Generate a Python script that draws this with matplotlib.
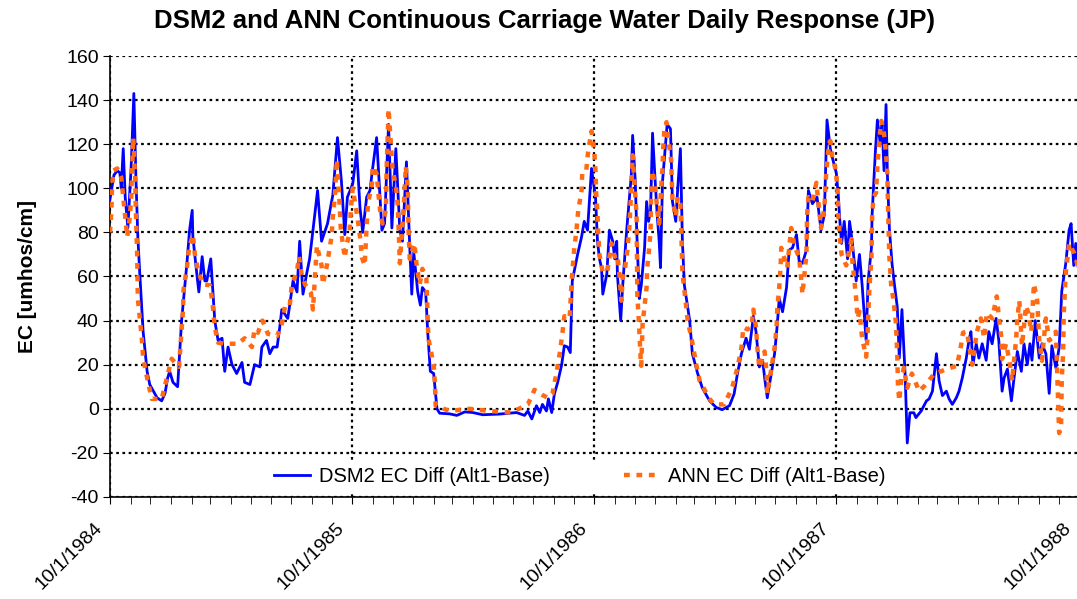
import matplotlib
matplotlib.use("Agg")
import matplotlib.pyplot as plt
import matplotlib.dates as mdates
import matplotlib.ticker as mticker
import matplotlib.transforms as mtransforms
import pandas as pd

plt.rcParams['font.family'] = ['Liberation Sans', 'DejaVu Sans']
plt.rcParams['axes.unicode_minus'] = False

# days after 10/1/1984 and EC difference (umhos/cm)
dsm2_day = [0, 6, 11, 15, 17, 20, 23, 27, 32, 36, 39, 42, 45, 50, 56, 60, 71, 78, 83, 87,
            90, 95, 102, 108, 116, 120, 124, 125, 131, 134, 139, 143, 146, 152, 158, 163, 169, 173, 178, 184,
            191, 199, 203, 211, 218, 226, 229, 236, 241, 246, 252, 256, 259, 268, 271, 276, 282, 286, 291, 297,
            301, 306, 313, 319, 328, 336, 343, 349, 354, 358, 366, 372, 377, 381, 387, 392, 396, 402, 410, 414,
            420, 425, 431, 437, 441, 447, 452, 455, 458, 464, 468, 471, 476, 479, 483, 488, 493, 497, 512, 523,
            535, 547, 562, 587, 613, 625, 630, 636, 643, 648, 652, 658, 661, 666, 670, 675, 681, 685, 690, 694,
            697, 705, 711, 715, 720, 726, 732, 735, 738, 741, 743, 749, 753, 758, 761, 764, 765, 770, 773, 779,
            786, 788, 792, 794, 798, 801, 806, 809, 812, 815, 818, 822, 825, 828, 830, 833, 837, 840, 845, 848,
            853, 856, 860, 863, 866, 869, 874, 878, 886, 893, 904, 914, 923, 934, 941, 946, 952, 959, 964, 970,
            974, 979, 984, 987, 991, 997, 1002, 1006, 1009, 1014, 1020, 1024, 1029, 1035, 1039, 1044, 1050, 1053, 1059, 1066,
            1072, 1077, 1081, 1086, 1089, 1095, 1098, 1100, 1103, 1107, 1112, 1115, 1119, 1125, 1130, 1134, 1140, 1143, 1148, 1149,
            1154, 1157, 1161, 1164, 1167, 1170, 1172, 1175, 1179, 1182, 1187, 1190, 1194, 1199, 1202, 1206, 1212, 1215, 1223, 1231,
            1235, 1240, 1246, 1250, 1255, 1261, 1265, 1270, 1276, 1280, 1285, 1291, 1295, 1298, 1301, 1306, 1310, 1315, 1321, 1325,
            1330, 1336, 1340, 1345, 1348, 1353, 1359, 1363, 1368, 1374, 1378, 1383, 1387, 1390, 1395, 1401, 1405, 1411, 1416, 1420,
            1426, 1431, 1435, 1441, 1446, 1449, 1453, 1456, 1461]
dsm2_ec = [95, 106, 108, 107, 100, 118, 96, 82, 110, 143, 106, 78, 61, 35, 17, 11, 5, 3.6, 7, 14,
           17, 12, 10, 40, 66, 81, 90, 78, 61, 53, 69, 58, 58, 68, 40, 31, 32, 17, 28, 20,
           16, 21, 12, 11, 20, 19, 28, 31, 25, 28, 28, 37, 45, 41, 47, 58, 53, 76, 52, 62,
           68, 81, 99, 76, 84, 97, 123, 103, 79, 96, 102, 117, 91, 80, 96, 99, 109, 123, 81, 84,
           129, 82, 118, 81, 76, 112, 73, 52, 71, 53, 47, 55, 53, 35, 17, 16, 0, -2, -2.3, -3,
           -1.4, -1.7, -2.7, -2.4, -1.7, -3, -1, -4.6, 1.4, -1.7, 2, -1, 4.5, -1.7, 6.7, 12, 20, 28.6, 28, 25.5,
           58, 70, 78, 85, 81, 109, 96, 76, 68, 64, 52, 61, 81, 76, 68, 76, 61, 40, 56, 81,
           106, 124, 103, 82, 50, 56, 73, 94, 85, 90, 125, 103, 88, 76, 64, 103, 118, 129, 127, 94,
           85, 100, 118, 76, 56, 50, 40, 25, 16, 9.5, 3.6, 0.6, -0.4, 1.4, 6.8, 16, 25, 32, 27, 42,
           35, 19, 22, 14, 5, 16, 25, 38, 50, 44, 55, 72, 73, 79, 67, 66, 72, 99, 93, 96,
           81, 88, 131, 118, 114, 107, 97, 87, 75, 85, 68, 85, 76, 58, 70, 56, 31, 58, 73, 88,
           117, 131, 121, 129, 108, 138, 107, 82, 66, 58, 46, 23, 45, 14, -15.5, -1.8, -1.8, -4, -1, 3.6,
           4.5, 8, 25, 12.7, 6, 8, 4.5, 2, 5, 8, 14, 23, 31, 35, 20, 29.5, 23, 29.5, 22, 35,
           29.5, 41, 31, 8, 14, 18, 3.6, 14, 26, 17, 29.5, 20, 29.5, 22, 40, 23, 29.5, 25, 7, 28.6,
           18.6, 27.7, 53.5, 66, 81, 84, 65, 75, 60]

ann_day = [0, 2, 3, 5, 11, 17, 20, 23, 26, 30, 32, 33, 35, 38, 39, 41, 42, 45, 48, 50,
           56, 63, 78, 93, 104, 108, 110, 111, 116, 119, 125, 128, 133, 140, 151, 155, 158, 163, 173, 181,
           193, 203, 214, 218, 223, 230, 238, 252, 259, 264, 271, 274, 282, 285, 289, 294, 303, 306, 312, 319,
           321, 327, 334, 336, 339, 342, 345, 348, 354, 357, 361, 364, 366, 373, 377, 380, 384, 387, 389, 395,
           396, 402, 405, 408, 411, 416, 417, 420, 426, 431, 434, 437, 443, 446, 449, 450, 452, 459, 462, 467,
           471, 477, 479, 480, 488, 490, 491, 512, 542, 572, 605, 630, 640, 651, 660, 667, 673, 678, 682, 685,
           693, 696, 700, 703, 706, 711, 712, 718, 721, 726, 730, 732, 733, 735, 736, 738, 743, 750, 756, 761,
           765, 768, 771, 773, 776, 780, 783, 786, 788, 792, 794, 795, 798, 800, 801, 803, 806, 809, 810, 813,
           815, 816, 818, 822, 825, 828, 831, 833, 834, 836, 839, 842, 846, 848, 853, 856, 860, 861, 863, 868,
           871, 878, 884, 889, 904, 911, 926, 938, 946, 952, 955, 961, 967, 970, 974, 976, 979, 987, 990, 991,
           997, 1002, 1005, 1006, 1009, 1011, 1012, 1021, 1024, 1027, 1032, 1039, 1042, 1044, 1047, 1050, 1051, 1053, 1059, 1065,
           1072, 1077, 1080, 1083, 1086, 1089, 1092, 1095, 1097, 1098, 1100, 1103, 1110, 1118, 1119, 1122, 1125, 1127, 1130, 1134,
           1140, 1142, 1143, 1145, 1148, 1149, 1151, 1155, 1157, 1160, 1163, 1167, 1170, 1172, 1173, 1175, 1178, 1181, 1185, 1187,
           1188, 1190, 1193, 1197, 1202, 1209, 1220, 1228, 1243, 1253, 1261, 1277, 1283, 1286, 1292, 1300, 1307, 1313, 1318, 1322,
           1330, 1337, 1340, 1344, 1345, 1351, 1356, 1360, 1366, 1368, 1371, 1375, 1381, 1384, 1389, 1393, 1398, 1401, 1405, 1408,
           1411, 1416, 1420, 1426, 1428, 1429, 1431, 1434, 1435, 1437, 1438, 1441, 1446, 1453, 1461]
ann_ec = [80, 89, 99, 108, 109, 105, 96, 87, 78, 87, 96, 105, 123, 105, 90, 70, 50, 41, 32, 23,
          14, 4.5, 4.5, 22.7, 19, 36, 44, 54, 64, 72.5, 79, 70, 62.6, 56.5, 56, 46.7, 37, 30, 29.5, 29.5,
          29.5, 32, 28, 36, 34.5, 40, 34, 33, 38.5, 46.7, 46.7, 56, 62.6, 69, 61, 56.5, 52.6, 45, 74, 65,
          56.5, 65, 78, 87, 96, 113, 100, 81.6, 68.5, 75, 79, 94, 100, 87, 78, 68.5, 65, 83, 93, 102,
          110, 106.6, 96.6, 88, 84, 90, 108, 136, 109, 101, 92, 66, 92, 110, 100, 82, 68, 75, 66, 56.5,
          63.5, 59.5, 41, 32, 20, 11, 1.4, -1, 0, -1, -1.7, 2, 8.6, 6.4, 5, 6.8, 16, 25, 34, 42,
          41, 58, 73, 80, 90, 99, 107, 108, 117, 126, 117, 108, 98, 89, 80, 70, 61.7, 62.6, 75, 69,
          70, 61, 49, 59.5, 62.6, 71.7, 82, 100, 115, 96.6, 87.5, 52, 36, 23, 19.5, 38.5, 46.7, 55, 64, 73,
          81, 99, 108, 100, 91, 84, 100, 109, 118, 127, 130, 121.5, 113, 95, 87, 96, 93, 84, 62, 48,
          40, 30, 20, 12.7, 4.5, 2, 2, 9.5, 18.6, 27.7, 37, 36, 37, 45, 37, 27.7, 18.6, 26, 16, 6.8,
          18, 27.7, 37, 45, 55, 64, 73, 64, 73, 82, 74, 68.5, 59.5, 52, 61, 70, 88, 96, 94, 102.5,
          82, 91, 108, 117, 121.5, 114, 111, 106.6, 97.5, 88, 79, 70, 65, 77, 68, 59, 50, 41, 44, 32,
          23.6, 31.7, 41, 55, 68.5, 87, 96, 98, 110, 122.5, 130.6, 124.7, 115.6, 106.6, 92, 69, 55, 50, 38.5, 24,
          10.4, 3.6, 13.6, 18.6, 9.5, 16, 8, 10.4, 16, 17, 18, 19.5, 28.6, 34.5, 35, 20, 35, 41, 32, 43.5,
          41, 51, 42, 32, 22.6, 29.5, 21.8, 12.7, 31, 41, 49, 28.6, 46.7, 44, 35, 56.7, 49, 31, 21.8, 31.7,
          41, 31, 32, 35, 16, 6.8, -11, -7, 13.6, 25.4, 43.5, 61.7, 75, 71, 63]

start = pd.Timestamp('1984-10-01')
year_ticks = ['1984-10-01', '1985-10-01', '1986-10-01', '1987-10-01', '1988-10-01']

dsm2_dates = start + pd.to_timedelta(dsm2_day, unit='D')
ann_dates = start + pd.to_timedelta(ann_day, unit='D')

fig = plt.figure(figsize=(10.77, 5.99), dpi=100)
ax = fig.add_axes([0.1021, 0.1703, 0.8998, 0.7362])

ax.plot(dsm2_dates, dsm2_ec, color='#0000FF', lw=2.0, label='DSM2 EC Diff (Alt1-Base)', zorder=3)
ax.plot(ann_dates, ann_ec, color='#FF6A13', lw=3.2, linestyle=(0, (1.3, 1.5)),
        label='ANN EC Diff (Alt1-Base)', zorder=4)

ax.set_ylim(-40, 160)
ax.set_yticks(range(-40, 161, 20))
ax.set_xlim(pd.Timestamp(year_ticks[0]), pd.Timestamp(year_ticks[-1]))
ax.set_xticks([pd.Timestamp(t) for t in year_ticks])
ax.xaxis.set_minor_locator(mdates.MonthLocator())
ax.xaxis.set_major_formatter(mticker.FuncFormatter(
    lambda v, p: "{0.month}/{0.day}/{0.year}".format(mdates.num2date(v))))

ax.grid(True, which='major', color='black', linestyle=(0, (1.2, 1.6)), lw=1.6, zorder=1)
for s in ['top', 'right']:
    ax.spines[s].set_visible(False)
ax.spines['left'].set_linewidth(1.2)
ax.spines['bottom'].set_linewidth(1.2)
ax.tick_params(axis='y', which='major', direction='out', length=5, labelsize=14, pad=3)
ax.tick_params(axis='x', which='major', direction='out', length=5, labelsize=14, pad=11)
ax.tick_params(axis='x', which='minor', direction='out', length=5)
# shift the rotated date labels a little to the left, like the original
shift = mtransforms.ScaledTranslation(-16 / 100, 0, fig.dpi_scale_trans)
for lab in ax.get_xticklabels():
    lab.set_rotation(45)
    lab.set_ha('right')
    lab.set_va('top')
    lab.set_rotation_mode('anchor')
    lab.set_transform(lab.get_transform() + shift)

ax.set_ylabel('EC [umhos/cm]', fontsize=15, fontweight='bold', labelpad=21)
fig.suptitle('DSM2 and ANN Continuous Carriage Water Daily Response (JP)',
             fontsize=18.5, fontweight='bold', x=0.506, y=0.985)

leg = ax.legend(loc='lower center', bbox_to_anchor=(0.485, 0.0), ncol=2, fontsize=14.5,
                frameon=True, framealpha=1, edgecolor='none', facecolor='white',
                handlelength=1.8, handletextpad=0.4, columnspacing=3.7,
                borderpad=0.3, borderaxespad=0.25)
leg.set_zorder(5)

fig.savefig('out.png', dpi=100)
